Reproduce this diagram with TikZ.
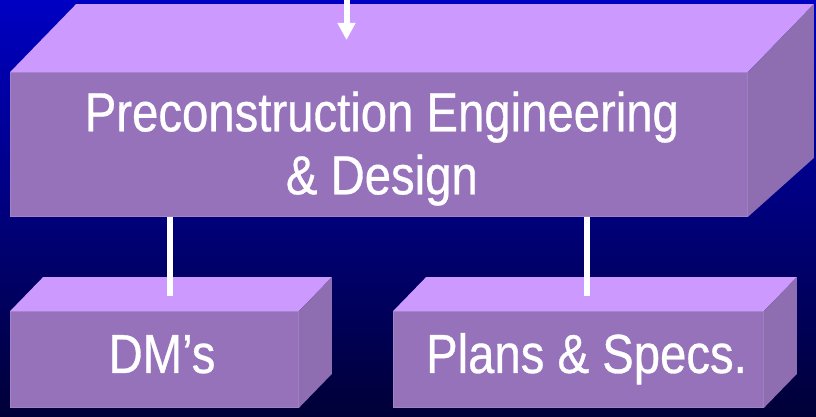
\documentclass[tikz,border=0pt]{standalone}
\usepackage{fontspec}
\setmainfont[FakeStretch=0.86,FakeBold=0.6]{Liberation Sans}
\usetikzlibrary{arrows.meta,calc}
\definecolor{topc}{HTML}{CC99FF}
\definecolor{frontc}{HTML}{9672BA}
\definecolor{sidec}{HTML}{8E6DB0}
\definecolor{edgec}{HTML}{A282C8}
\definecolor{bgtop}{RGB}{0,0,195}
\definecolor{bgbot}{RGB}{0,0,55}
\begin{document}
\begin{tikzpicture}[x=1pt,y=1pt,
 face/.style={draw=edgec, line width=0.8pt, fill=frontc, inner sep=0pt, anchor=south west},
 topface/.style={fill=topc},
 sideface/.style={fill=sidec},
 lbl/.style={text=white, font=\fontsize{55}{63}\selectfont, inner sep=0pt},
 link/.style={draw=white, line width=6pt},
]
\shade[top color=bgtop, bottom color=bgbot] (0,0) rectangle (816,417);
\useasboundingbox (0,0) rectangle (816,417);

% big box
\node[face, minimum width=737pt, minimum height=144pt] (pe) at (10,200) {};
\fill[topface] (pe.north west) -- ++(66,68) -- ($(pe.north east)+(66,68)$) -- (pe.north east) -- cycle;
\fill[sideface] (pe.north east) -- ++(66,68) -- ($(pe.south east)+(66,59)$) -- (pe.south east) -- cycle;
\node[lbl, align=center] (petxt) at ($(pe.center)+(3,-4)$) {Preconstruction Engineering\\\& Design};

% small boxes
\node[face, minimum width=288pt, minimum height=96pt] (dm) at (10,9) {};
\fill[topface] (dm.north west) -- ++(33,34) -- ($(dm.north east)+(33,34)$) -- (dm.north east) -- cycle;
\fill[sideface] (dm.north east) -- ++(33,34) -- ($(dm.south east)+(33,34)$) -- (dm.south east) -- cycle;
\node[lbl, anchor=base] (dmtxt) at (162,44) {DM’s};

\node[face, minimum width=370pt, minimum height=96pt] (ps) at (393,9) {};
\fill[topface] (ps.north west) -- ++(33,34) -- ($(ps.north east)+(33,34)$) -- (ps.north east) -- cycle;
\fill[sideface] (ps.north east) -- ++(33,34) -- ($(ps.south east)+(33,34)$) -- (ps.south east) -- cycle;
\node[lbl, anchor=base] (pstxt) at (586.5,44) {Plans \& Specs.};

% connectors
\coordinate (dmtop) at (170,121);
\coordinate (pstop) at (587,121);
\draw[link] (pe.south -| dmtop) -- (dmtop);
\draw[link] (pe.south -| pstop) -- (pstop);
\coordinate (infrom) at (346.5,417);
\coordinate (into) at (346.5,377);
\draw[link, -{Triangle[width=17pt,length=17pt]}] (infrom) -- (into);
\end{tikzpicture}
\end{document}
